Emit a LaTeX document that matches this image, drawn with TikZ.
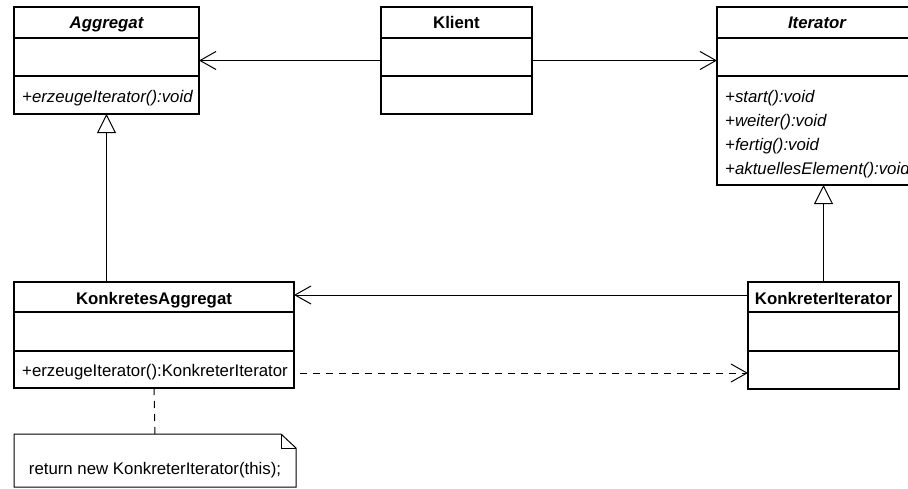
\documentclass[tikz,border=0pt]{standalone}
\usepackage{fontspec}
\setmainfont{Liberation Sans}
\usetikzlibrary{arrows.meta}
\begin{document}
\begin{tikzpicture}[x=1pt,y=-1pt,
  box/.style={draw, line width=1.1pt, inner sep=0pt, outer sep=0pt},
  divider/.style={line width=1.1pt},
  lbl/.style={anchor=base, inner sep=0pt, font=\fontsize{16.8}{20}\selectfont},
  meth/.style={lbl, anchor=base west},
  assoc/.style={line width=1pt, -{Straight Barb[length=16pt,width=18pt,line width=1pt]}},
  gen/.style={line width=1pt, -{Triangle[open,length=19pt,width=19pt,line width=1pt,fill=white]}},
  dep/.style={assoc, dash pattern=on 7pt off 6pt},
  notelink/.style={line width=1pt, dash pattern=on 7pt off 6pt}]
\useasboundingbox (0,0) rectangle (908,488);
\clip (0,0) rectangle (908,488);
\fill[white] (0,0) rectangle (908,488);

% Aggregat
\node[box, minimum width=185pt, minimum height=107pt] (agg) at (106.5,60.5) {};
\draw[divider] (agg.west |- 0,38) -- (agg.east |- 0,38);
\draw[divider] (agg.west |- 0,76) -- (agg.east |- 0,76);
\node[lbl] (aggt) at (106.5,28) {\bfseries\itshape Aggregat};
\node[meth] (aggm) at (22,102) {\itshape +erzeugeIterator():void};

% Klient
\node[box, minimum width=151pt, minimum height=107pt] (kl) at (456.5,60.5) {};
\draw[divider] (kl.west |- 0,38) -- (kl.east |- 0,38);
\draw[divider] (kl.west |- 0,76) -- (kl.east |- 0,76);
\node[lbl] (klt) at (456.5,28) {\bfseries Klient};

% Iterator
\node[box, minimum width=200pt, minimum height=178pt] (it) at (817,96) {};
\draw[divider] (it.west |- 0,38) -- (it.east |- 0,38);
\draw[divider] (it.west |- 0,76) -- (it.east |- 0,76);
\node[lbl] (itt) at (817,28) {\bfseries\itshape Iterator};
\node[meth] (itm1) at (725,102) {\itshape +start():void};
\node[meth] (itm2) at (725,126) {\itshape +weiter():void};
\node[meth] (itm3) at (725,150) {\itshape +fertig():void};
\node[meth] (itm4) at (725,174) {\itshape +aktuellesElement():void};

% KonkretesAggregat
\node[box, minimum width=280pt, minimum height=106pt] (ka) at (154,335) {};
\draw[divider] (ka.west |- 0,312) -- (ka.east |- 0,312);
\draw[divider] (ka.west |- 0,351) -- (ka.east |- 0,351);
\node[lbl] (kat) at (154,304) {\bfseries KonkretesAggregat};
\node[meth] (kam) at (22,376) {+erzeugeIterator():KonkreterIterator};

% KonkreterIterator
\node[box, minimum width=151pt, minimum height=107pt] (ki) at (823.5,335.5) {};
\draw[divider] (ki.west |- 0,312) -- (ki.east |- 0,312);
\draw[divider] (ki.west |- 0,351) -- (ki.east |- 0,351);
\node[lbl] (kit) at (823.5,304) {\bfseries KonkreterIterator};

% Note
\node[inner sep=0pt, outer sep=0pt, minimum width=282pt, minimum height=53pt] (note) at (155,460.5) {};
\draw[line width=1pt] (note.north west) -- ([xshift=-15pt]note.north east) -- ([yshift=-14pt]note.north east) -- (note.south east) -- (note.south west) -- cycle;
\draw[line width=1pt] ([xshift=-15pt]note.north east) -- ([xshift=-15pt,yshift=-14pt]note.north east) -- ([yshift=-14pt]note.north east);
\node[lbl] (notet) at (155,474) {return new KonkreterIterator(this);};

% Connectors
\draw[assoc] (kl.west) -- (agg.east);
\draw[assoc] (kl.east) -- (kl.east -| it.west);
\draw[gen] (agg.south |- ka.north) -- (agg.south);
\draw[gen] (ki.north) -- (ki.north |- it.south);
\draw[assoc] (ki.west |- 0,295) -- (ka.east |- 0,295);
\draw[dep] ([xshift=6pt]ka.east |- 0,373) -- (ki.west |- 0,373);
\draw[notelink] (ka.south) -- (note.north);
\end{tikzpicture}
\end{document}
